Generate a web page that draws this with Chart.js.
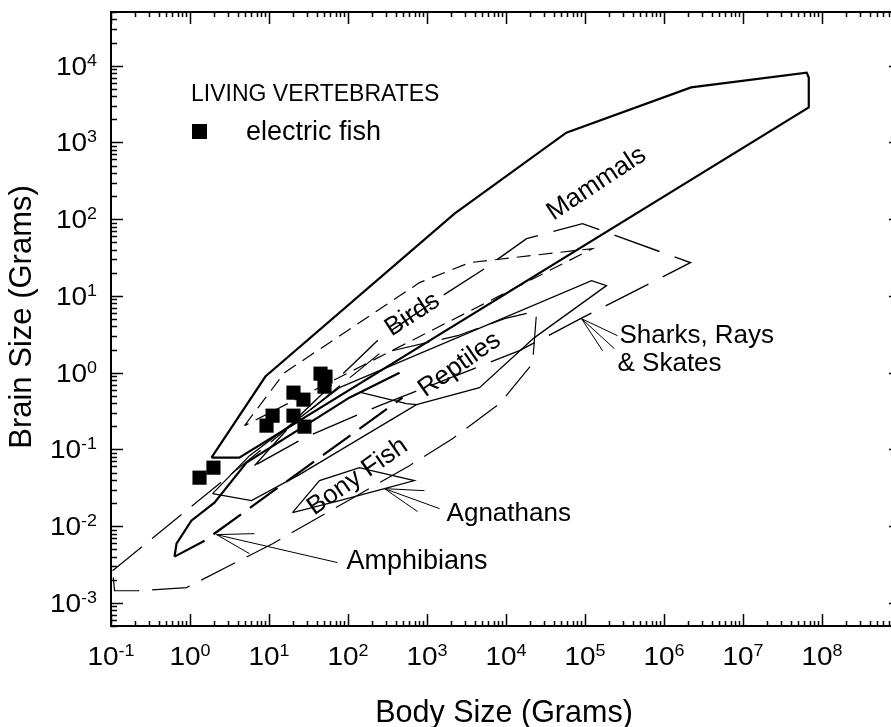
<!DOCTYPE html>
<html>
<head>
<meta charset="utf-8">
<script src="https://cdn.jsdelivr.net/npm/chart.js@4.4.1/dist/chart.umd.min.js"></script>
<style>
  html, body { margin: 0; padding: 0; background: #fff; overflow: hidden; width: 891px; height: 727px; }
  #wrap { position: relative; width: 920px; height: 727px; }
  canvas { display: block; }
</style>
</head>
<body>
<div id="wrap"><canvas id="c" width="920" height="727"></canvas></div>
<script>
// Electric fish: body mass (g) and brain mass (g)
const fishBody  = [1.32, 1.98, 9.3, 11.1, 20.4, 27.3, 20.4, 28.1, 44.9, 51.9, 50.4];
const fishBrain = [0.0428, 0.0578, 0.204, 0.275, 0.549, 0.445, 0.275, 0.198, 0.97, 0.887, 0.657];

// Outlines of the living vertebrate groups (body g, brain g)
const mammalsBody  = [1.87, 9.0, 2230, 58000, 2.2e6, 6.4e7, 6.8e7, 6.8e7, 4.2, 1.87];
const mammalsBrain = [0.078, 0.89, 118, 1340, 5200, 8100, 7000, 2850, 0.078, 0.078];

const birdsBody  = [4.9, 15.7, 804, 3450, 124000, 4.9];
const birdsBrain = [0.204, 1.0, 14.9, 27.1, 41.3, 0.204];

const reptilesBody  = [1.93, 6.0, 24.3, 736, 4620, 22900, 187000, 121000, 78, 5.67, 1.93];
const reptilesBrain = [0.0265, 0.0215, 0.0469, 0.383, 0.638, 2.86, 13.6, 15.8, 0.638, 0.0829, 0.0265];
const reptilesSpurBody  = [148, 550, 736];
const reptilesSpurBrain = [0.549, 0.394, 0.383];

const sharksBody  = [6.55, 24.3, 250, 1440, 5340, 18200, 93000, 2.16e6, 93000, 14800, 250, 28.1, 6.55];
const sharksBrain = [0.0614, 0.275, 2.77, 9.49, 22.6, 55.7, 87.4, 27.1, 5.21, 1.93, 0.372, 0.142, 0.0614];

const bonyFishBody  = [0.1045, 250, 2430, 9570, 19800, 24300, 21700, 8270, 2100, 600, 111, 11.1, 0.903, 0.216, 0.111, 0.1045];
const bonyFishBrain = [0.00263, 1.77, 3.03, 5.05, 6.05, 5.87, 1.31, 0.394, 0.138, 0.0614, 0.0228, 0.00591, 0.00158, 0.00144, 0.00144, 0.00263];

const agnathansBody  = [19.8, 43.6, 140, 198, 695, 290, 78, 19.8];
const agnathansBrain = [0.015, 0.0392, 0.0578, 0.0529, 0.0392, 0.0308, 0.0215, 0.015];

const amphibiansUpperBody  = [0.637, 0.675, 1.04, 2.04, 5.19, 104, 449];
const amphibiansUpperBrain = [0.00401, 0.00591, 0.0118, 0.0202, 0.0672, 0.472, 1.0];
const amphibiansLowerBody  = [0.637, 1.53, 490];
const amphibiansLowerBrain = [0.00401, 0.00647, 0.472];

// Leader lines from the group names to their outlines (hub first, then each end)
const amphibiansLeaderBody  = [2.17, 6.55, 2.17, 5.67, 2.17, 73.6];
const amphibiansLeaderBrain = [0.00775, 0.00799, 0.00775, 0.00438, 0.00775, 0.00335];
const agnathansLeaderBody  = [290, 758, 290, 930, 290, 1440];
const agnathansLeaderBrain = [0.0308, 0.0155, 0.0308, 0.029, 0.0308, 0.0169];
const sharksLeaderBody  = [90300, 167000, 90300, 236000, 90300, 258000];
const sharksLeaderBrain = [5.05, 1.93, 5.05, 2.05, 5.05, 3.03];

// Decade tick labels
const xTickExponents = [-1, 0, 1, 2, 3, 4, 5, 6, 7, 8];
const yTickExponents = [-3, -2, -1, 0, 1, 2, 3, 4];

const FONT = '"Liberation Sans", Arial, Helvetica, sans-serif';

function pts(xs, ys) { return xs.map((x, i) => ({ x: x, y: ys[i] })); }

function outline(label, xs, ys, width, dash) {
  return {
    label: label, data: pts(xs, ys), showLine: true, fill: false,
    borderColor: '#000', borderWidth: width, borderDash: dash || [],
    pointRadius: 0, pointHoverRadius: 0, tension: 0,
    borderJoinStyle: 'miter', borderCapStyle: 'butt'
  };
}

// Leader lines are drawn as separate segments (hub -> end)
function leader(label, xs, ys) {
  const d = [];
  for (let i = 0; i < xs.length; i += 2) {
    d.push({ x: xs[i], y: ys[i] }, { x: xs[i + 1], y: ys[i + 1] }, { x: NaN, y: NaN });
  }
  return {
    label: label, data: d, showLine: true, spanGaps: false, fill: false,
    borderColor: '#000', borderWidth: 1, pointRadius: 0, tension: 0
  };
}

// Group names placed along the outlines (anchor in data units)
const groupNames = [
  { text: 'Mammals',   x: 140000, y: 290,    angle: -33.5, align: 'center', size: 26 },
  { text: 'Birds',     x: 655,    y: 5.7,    angle: -33,   align: 'center', size: 26 },
  { text: 'Reptiles',  x: 2580,   y: 1.27,   angle: -35,   align: 'center', size: 26 },
  { text: 'Bony Fish', x: 132,    y: 0.0442, angle: -35,   align: 'center', size: 26 },
  { text: 'Sharks, Rays', x: 273000, y: 2.46, angle: 0, align: 'left', size: 26, base: true },
  { text: '& Skates',  x: 258000, y: 1.06,   angle: 0,     align: 'left', size: 26, base: true },
  { text: 'Agnathans', x: 1770,   y: 0.0118, angle: 0,     align: 'left', size: 26, base: true },
  { text: 'Amphibians', x: 95.7,  y: 0.00279, angle: 0,    align: 'left', size: 27, base: true }
];

const axesPlugin = {
  id: 'axesPlugin',
  afterDraw(chart) {
    const ctx = chart.ctx;
    const a = chart.chartArea;
    const xs = chart.scales.x, ys = chart.scales.y;
    ctx.save();
    ctx.strokeStyle = '#000';
    ctx.fillStyle = '#000';

    // frame
    ctx.lineWidth = 2;
    ctx.strokeRect(a.left, a.top, a.right - a.left, a.bottom - a.top);

    // inward ticks, all four sides
    ctx.lineWidth = 1.5;
    ctx.beginPath();
    for (let e = -2; e <= 9; e++) {
      for (let m = 1; m <= 9; m++) {
        const v = m * Math.pow(10, e);
        if (v < xs.min * 0.999 || v > xs.max * 1.001) continue;
        const p = Math.round(xs.getPixelForValue(v)) + 0.5;
        const len = m === 1 ? 12 : 5;
        ctx.moveTo(p, a.bottom); ctx.lineTo(p, a.bottom - len);
        ctx.moveTo(p, a.top); ctx.lineTo(p, a.top + len);
      }
    }
    for (let e = -4; e <= 5; e++) {
      for (let m = 1; m <= 9; m++) {
        const v = m * Math.pow(10, e);
        if (v < ys.min * 0.999 || v > ys.max * 1.001) continue;
        const p = Math.round(ys.getPixelForValue(v)) + 0.5;
        const len = m === 1 ? 12 : 6;
        ctx.moveTo(a.left, p); ctx.lineTo(a.left + len, p);
        ctx.moveTo(a.right, p); ctx.lineTo(a.right - len, p);
      }
    }
    ctx.stroke();

    // decade labels with superscript exponents
    const baseFont = '25px ' + FONT, expFont = '16px ' + FONT;
    const sx = 1.12;
    function power(e, cx, baseline, align) {
      ctx.font = baseFont;
      const wb = ctx.measureText('10').width;
      ctx.font = expFont;
      const es = e < 0 ? '-' + Math.abs(e) : String(e);
      const we = ctx.measureText(es).width;
      const tot = (wb + we) * sx;
      let start = align === 'center' ? cx - tot / 2 : cx - tot;
      ctx.save();
      ctx.translate(start, baseline);
      ctx.scale(sx, 1);
      ctx.textAlign = 'left';
      ctx.textBaseline = 'alphabetic';
      ctx.font = baseFont;
      ctx.fillText('10', 0, 0);
      ctx.font = expFont;
      ctx.fillText(es, wb, -9);
      ctx.restore();
    }
    xTickExponents.forEach(e => power(e, xs.getPixelForValue(Math.pow(10, e)), 665, 'center'));
    yTickExponents.forEach(e => power(e, 97, ys.getPixelForValue(Math.pow(10, e)) + 9, 'right'));

    // axis titles
    ctx.font = '30.5px ' + FONT;
    ctx.textAlign = 'center';
    ctx.textBaseline = 'alphabetic';
    ctx.fillText('Body Size (Grams)', 504, 722);
    ctx.save();
    ctx.translate(31, 317);
    ctx.rotate(-Math.PI / 2);
    ctx.font = '31px ' + FONT;
    ctx.fillText('Brain Size (Grams)', 0, 0);
    ctx.restore();

    // group names
    groupNames.forEach(g => {
      const px = xs.getPixelForValue(g.x), py = ys.getPixelForValue(g.y);
      ctx.save();
      ctx.translate(px, py);
      ctx.rotate(g.angle * Math.PI / 180);
      ctx.font = g.size + 'px ' + FONT;
      ctx.textAlign = g.align;
      ctx.textBaseline = g.base ? 'alphabetic' : 'middle';
      ctx.fillText(g.text, 0, 0);
      ctx.restore();
    });

    // legend
    ctx.textAlign = 'left';
    ctx.textBaseline = 'alphabetic';
    ctx.font = '23px ' + FONT;
    ctx.fillText('LIVING VERTEBRATES', 191, 101);
    ctx.fillRect(192, 124, 15, 15);
    ctx.font = '27px ' + FONT;
    ctx.fillText('electric fish', 246, 140);
    ctx.restore();
  }
};

new Chart(document.getElementById('c'), {
  type: 'scatter',
  data: {
    datasets: [
      outline('Mammals', mammalsBody, mammalsBrain, 2.2),
      outline('Birds', birdsBody, birdsBrain, 1.2, [14, 8]),
      outline('Reptiles', reptilesBody, reptilesBrain, 1.3),
      outline('Reptiles spur', reptilesSpurBody, reptilesSpurBrain, 1.3),
      outline('Sharks, Rays & Skates', sharksBody, sharksBrain, 1.4, [48, 16]),
      outline('Bony Fish', bonyFishBody, bonyFishBrain, 1.2, [38, 13]),
      outline('Agnathans', agnathansBody, agnathansBrain, 1.2),
      outline('Amphibians', amphibiansUpperBody, amphibiansUpperBrain, 2.2),
      outline('Amphibians lower', amphibiansLowerBody, amphibiansLowerBrain, 2.2, [34, 11]),
      leader('Amphibians leader', amphibiansLeaderBody, amphibiansLeaderBrain),
      leader('Agnathans leader', agnathansLeaderBody, agnathansLeaderBrain),
      leader('Sharks leader', sharksLeaderBody, sharksLeaderBrain),
      {
        label: 'electric fish', data: pts(fishBody, fishBrain),
        pointStyle: 'rect', pointRadius: 10, pointHoverRadius: 10,
        backgroundColor: '#000', borderColor: '#000', borderWidth: 0, showLine: false
      }
    ]
  },
  options: {
    responsive: false,
    animation: false,
    devicePixelRatio: 1,
    layout: { padding: { left: 111, right: 19, top: 12, bottom: 101 } },
    plugins: { legend: { display: false }, tooltip: { enabled: false } },
    scales: {
      x: { type: 'logarithmic', min: 0.1, max: 1e9, display: false },
      y: { type: 'logarithmic', min: 5e-4, max: 5e4, display: false }
    }
  },
  plugins: [axesPlugin]
});
</script>
</body>
</html>
